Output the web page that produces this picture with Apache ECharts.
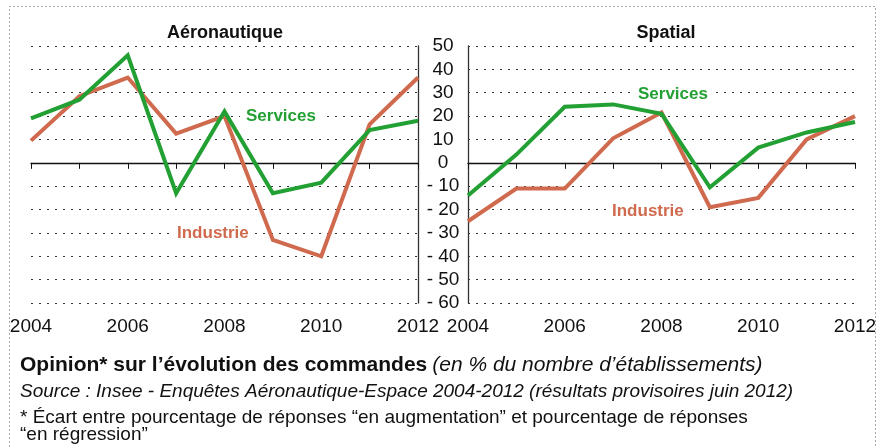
<!DOCTYPE html>
<html>
<head>
<meta charset="utf-8">
<script src="https://cdn.jsdelivr.net/npm/echarts@6/dist/echarts.min.js"></script>
<style>
  html, body { margin: 0; padding: 0; background: #fff; }
  #chart { width: 880px; height: 448px; }
</style>
</head>
<body>
<div id="chart"></div>
<script>
// Opinion sur l'évolution des commandes, aéronautique vs spatial
const years = ["2004", "2005", "2006", "2007", "2008", "2009", "2010", "2011", "2012"];

const aeroServices = [19, 27, 46, -13, 22, -13, -8.5, 14, 18];
const aeroIndustrie = [9.5, 28.5, 36.5, 12.5, 20, -33, -40, 16.5, 36.5];

const spatialServices = [-14, 3.5, 24, 25, 21, -10.5, 6.5, 13, 17.5];
const spatialIndustrie = [-25, -11, -11, 10.5, 21.5, -19, -15, 10, 20];

const yTicks = { min: -60, max: 50, interval: 10 };

const GREEN = "#22a033";
const RED = "#d06a4e";
const FONT = "'Liberation Sans', Arial, sans-serif";

const chart = echarts.init(document.getElementById("chart"), null, { renderer: "canvas" });

const dotted = { color: "#333", width: 1, type: [2, 6] };

function zeroAxis(gridIndex) {
    return {
        type: "category",
        gridIndex,
        data: years,
        position: "bottom",
        boundaryGap: false,
        axisLine: { onZero: true, lineStyle: { color: "#111", width: 1.3 } },
        axisTick: { show: true, inside: false, length: 6, interval: 0, lineStyle: { color: "#111" } },
        axisLabel: { show: false },
        splitLine: { show: false },
    };
}

function labelAxis(gridIndex) {
    return {
        type: "category",
        gridIndex,
        data: years,
        position: "bottom",
        boundaryGap: false,
        axisLine: { show: false, onZero: false },
        axisTick: { show: false },
        axisLabel: {
            interval: 1,
            margin: 14,
            color: "#111",
            fontSize: 19,
            fontFamily: FONT,
        },
        splitLine: { show: false },
    };
}

function valueAxis(gridIndex, position, showLabels) {
    return {
        type: "value",
        gridIndex,
        position,
        min: yTicks.min,
        max: yTicks.max,
        interval: yTicks.interval,
        axisLine: { show: true, onZero: false, lineStyle: { color: "#333", width: 1.3 } },
        axisTick: { show: false },
        axisLabel: {
            show: showLabels,
            margin: 25,
            align: "center",
            color: "#111",
            fontSize: 19,
            fontFamily: FONT,
            formatter: (v) => (v < 0 ? "- " + Math.abs(v) : String(v)),
        },
        splitLine: { show: true, lineStyle: dotted },
    };
}

function line(name, data, color, xAxisIndex, yAxisIndex) {
    return {
        name,
        type: "line",
        data,
        xAxisIndex,
        yAxisIndex,
        symbol: "none",
        lineStyle: { color, width: 4, join: "miter" },
        z: color === GREEN ? 3 : 2,
        animation: false,
    };
}

function seriesLabel(text, color, x, y) {
    return {
        type: "text",
        left: x,
        top: y,
        z: 10,
        style: {
            text,
            fill: color,
            font: "bold 17px " + FONT,
            backgroundColor: "#fff",
            padding: [0, 6],
        },
    };
}

function footLine(text, font, top) {
    return { type: "text", left: 20, top, style: { text, font, fill: "#111" } };
}

const option = {
    backgroundColor: "#fff",
    animation: false,
    title: [
        {
            text: "Aéronautique",
            left: 220,
            top: 19,
            textAlign: "center",
            textStyle: { fontSize: 18, fontWeight: "bold", color: "#111", fontFamily: FONT },
        },
        {
            text: "Spatial",
            left: 661,
            top: 19,
            textAlign: "center",
            textStyle: { fontSize: 18, fontWeight: "bold", color: "#111", fontFamily: FONT },
        },
    ],
    grid: [
        { left: 31, top: 46, width: 387, height: 257 },
        { left: 468, top: 46, width: 387, height: 257 },
    ],
    xAxis: [zeroAxis(0), labelAxis(0), zeroAxis(1), labelAxis(1)],
    yAxis: [valueAxis(0, "right", false), valueAxis(1, "left", true)],
    series: [
        line("Industrie", aeroIndustrie, RED, 0, 0),
        line("Services", aeroServices, GREEN, 0, 0),
        line("Industrie", spatialIndustrie, RED, 2, 1),
        line("Services", spatialServices, GREEN, 2, 1),
    ],
    graphic: [
        {
            type: "rect",
            shape: { x: 9.5, y: 6.5, width: 866, height: 460 },
            style: { fill: "none", stroke: "#555", lineWidth: 1, lineDash: [1, 3] },
            z: 0,
        },
        seriesLabel("Services", GREEN, 240, 108),
        seriesLabel("Industrie", RED, 171, 225),
        seriesLabel("Services", GREEN, 632, 86),
        seriesLabel("Industrie", RED, 606, 203),
        {
            type: "text",
            left: 20,
            top: 355,
            style: {
                rich: {
                    b: { font: "bold 21px " + FONT, fill: "#111" },
                    i: { font: "italic 21px " + FONT, fill: "#111", padding: [0, 0, 0, 5] },
                },
                text: "{b|Opinion* sur l’évolution des commandes}{i|(en % du nombre d’établissements)}",
            },
        },
        footLine(
            "Source : Insee - Enquêtes Aéronautique-Espace 2004-2012 (résultats provisoires juin 2012)",
            "italic 19px " + FONT,
            382
        ),
        footLine(
            "* Écart entre pourcentage de réponses “en augmentation” et pourcentage de réponses",
            "19px " + FONT,
            408
        ),
        footLine("“en régression”", "19px " + FONT, 425),
    ],
};

chart.setOption(option);
</script>
</body>
</html>
